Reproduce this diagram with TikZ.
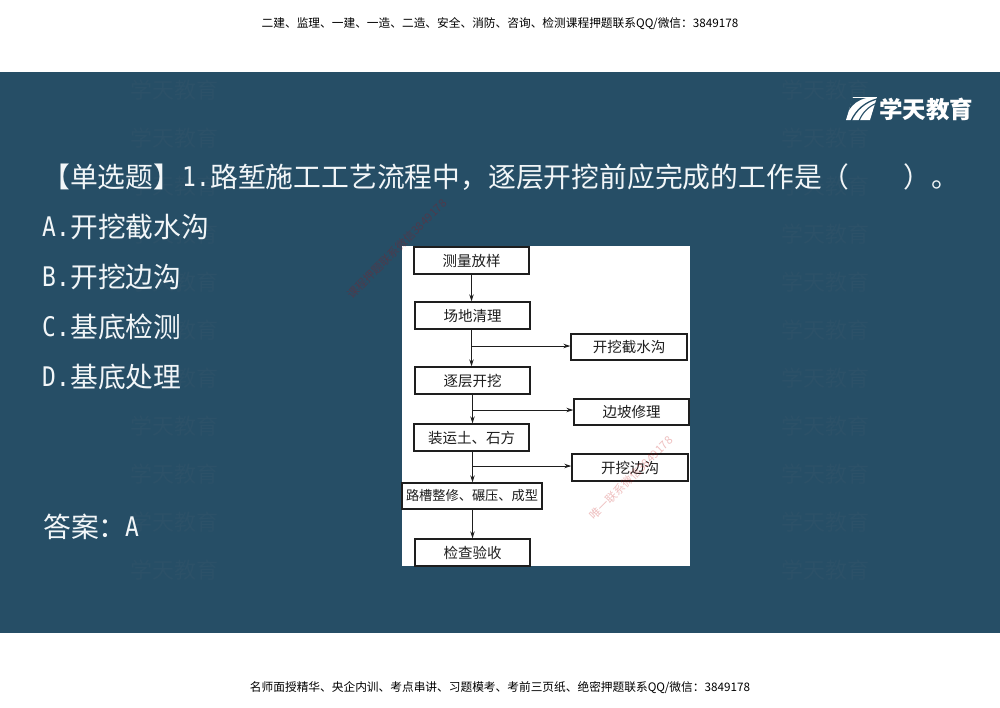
\documentclass[tikz,border=0pt]{standalone}
\usepackage{fontspec}
\setmainfont{Noto Sans CJK SC}
\newfontfamily\latinmono[FakeStretch=0.85]{DejaVu Sans Mono}
\usetikzlibrary{arrows.meta}
\definecolor{bandblue}{HTML}{264E66}
\definecolor{wmark}{HTML}{2C5168}
\definecolor{ink}{HTML}{1E1E1E}
\definecolor{qtext}{HTML}{F2F6F8}
\tikzset{
  x=1pt,y=-1pt,
  flowbox/.style={draw=ink,line width=1.4pt,fill=white,text=ink,inner sep=0pt,font=\fontsize{14.5}{16}\selectfont},
  conn/.style={draw=ink,line width=0.9pt,-{Stealth[length=7pt,width=4.5pt]}},
  question/.style={text=qtext,anchor=west,inner sep=0pt,font=\fontsize{27.8}{30}\selectfont},
  latinpart/.style={question,font=\latinmono\fontsize{27}{30}\selectfont},
  caption/.style={text=black,inner sep=0pt,font=\fontsize{11.7}{14}\selectfont},
  watermark/.style={text=wmark,inner sep=0pt,font=\fontsize{22}{24}\selectfont},
  stamp/.style={text=red!75!black,opacity=0.25,inner sep=0pt,rotate=45,font=\fontsize{11.3}{12}\selectfont},
  logotext/.style={text=white,anchor=west,inner sep=0pt,font=\bfseries\fontsize{23.5}{26}\selectfont},
}
\begin{document}
\begin{tikzpicture}
\useasboundingbox (0,0) rectangle (1000,707);
\fill[white] (0,0) rectangle (1000,707);
\fill[bandblue] (0,72) rectangle (1000,633);

% captions
\node[caption] (cap1) at (500,24) {二建、监理、一建、一造、二造、安全、消防、咨询、检测课程押题联系QQ/微信：3849178};
\node[caption] (cap2) at (500,688) {名师面授精华、央企内训、考点串讲、习题模考、考前三页纸、绝密押题联系QQ/微信：3849178};

% background watermarks
\foreach \n/\yy in {a/90,b/138,c/186,d/234,e/282,f/330,g/378,h/426,i/474,j/522,k/570} {
  \node[watermark] (wl\n) at (174,\yy) {学天教育};
  \node[watermark] (wr\n) at (825,\yy) {学天教育};
}

% logo
\fill[white] (853,97) -- (877,97) -- (870,120) -- (846,120) -- cycle;
\draw[bandblue,line width=1.3pt] (877,99) .. controls (865,102) and (856,110) .. (851,121);
\draw[bandblue,line width=1.1pt] (877,103) .. controls (869,106) and (862,113) .. (859,121);
\fill[bandblue] (852,98) -- (866,98) .. controls (858,100) and (853,104) .. (849,110) -- cycle;
\node[logotext] (logo) at (879,109) {学天教育};

% question
\node[question] (q0) at (42,177) {【单选题】};
\node[latinpart] (q1) at (182,177) {1.};
\node[question] (q2) at (210,177) {路堑施工工艺流程中，逐层开挖前应完成的工作是（};
\node[question] (q3) at (903,177) {）。};
\node[latinpart] (ao) at (42,227) {A.};
\node[question] (at) at (70,227) {开挖截水沟};
\node[latinpart] (bo) at (42,277) {B.};
\node[question] (bt) at (70,277) {开挖边沟};
\node[latinpart] (co) at (42,327) {C.};
\node[question] (ct) at (70,327) {基底检测};
\node[latinpart] (do) at (42,377) {D.};
\node[question] (dt) at (70,377) {基底处理};
\node[question] (ans) at (43,527) {答案：};
\node[latinpart] (ansv) at (125,527) {A};

% diagram
\fill[white] (402,246) rectangle (690,566);
\node[flowbox,minimum width=115pt,minimum height=27pt] (celiang) at (471.5,260.5) {测量放样};
\node[flowbox,minimum width=115pt,minimum height=27pt] (changdi) at (472.5,315.5) {场地清理};
\node[flowbox,minimum width=116pt,minimum height=26pt] (jieshui) at (629,347) {开挖截水沟};
\node[flowbox,minimum width=115pt,minimum height=27pt] (zhuceng) at (472.5,380.5) {逐层开挖};
\node[flowbox,minimum width=115pt,minimum height=26pt] (bianpo) at (631.5,412) {边坡修理};
\node[flowbox,minimum width=115pt,minimum height=27pt] (zhuangyun) at (471.5,437.5) {装运土、石方};
\node[flowbox,minimum width=116pt,minimum height=27pt] (biangou) at (630,467.5) {开挖边沟};
\node[flowbox,minimum width=140pt,minimum height=26pt,font=\fontsize{13.2}{15}\selectfont] (lucao) at (472,496) {路槽整修、碾压、成型};
\node[flowbox,minimum width=115pt,minimum height=27pt] (jiancha) at (472.5,552.5) {检查验收};

\coordinate (j1) at (471.5,346);
\coordinate (j2) at (472.5,410);
\coordinate (j3) at (472.5,466);
\draw[conn] (celiang.south) -- (celiang.south |- changdi.north);
\draw[conn] (j1 |- changdi.south) -- (j1 |- zhuceng.north);
\draw[conn] (j1) -- (j1 -| jieshui.west);
\draw[conn] (j2 |- zhuceng.south) -- (j2 |- zhuangyun.north);
\draw[conn] (j2) -- (j2 -| bianpo.west);
\draw[conn] (j3 |- zhuangyun.south) -- (j3 |- lucao.north);
\draw[conn] (j3) -- (j3 -| biangou.west);
\draw[conn] (j3 |- lucao.south) -- (j3 |- jiancha.north);

% stamps
\node[stamp] (s1) at (397,249) {课程押题联系微信3849178};
\node[stamp] (s2) at (631,478) {唯一联系微信3849178};
\end{tikzpicture}
\end{document}
